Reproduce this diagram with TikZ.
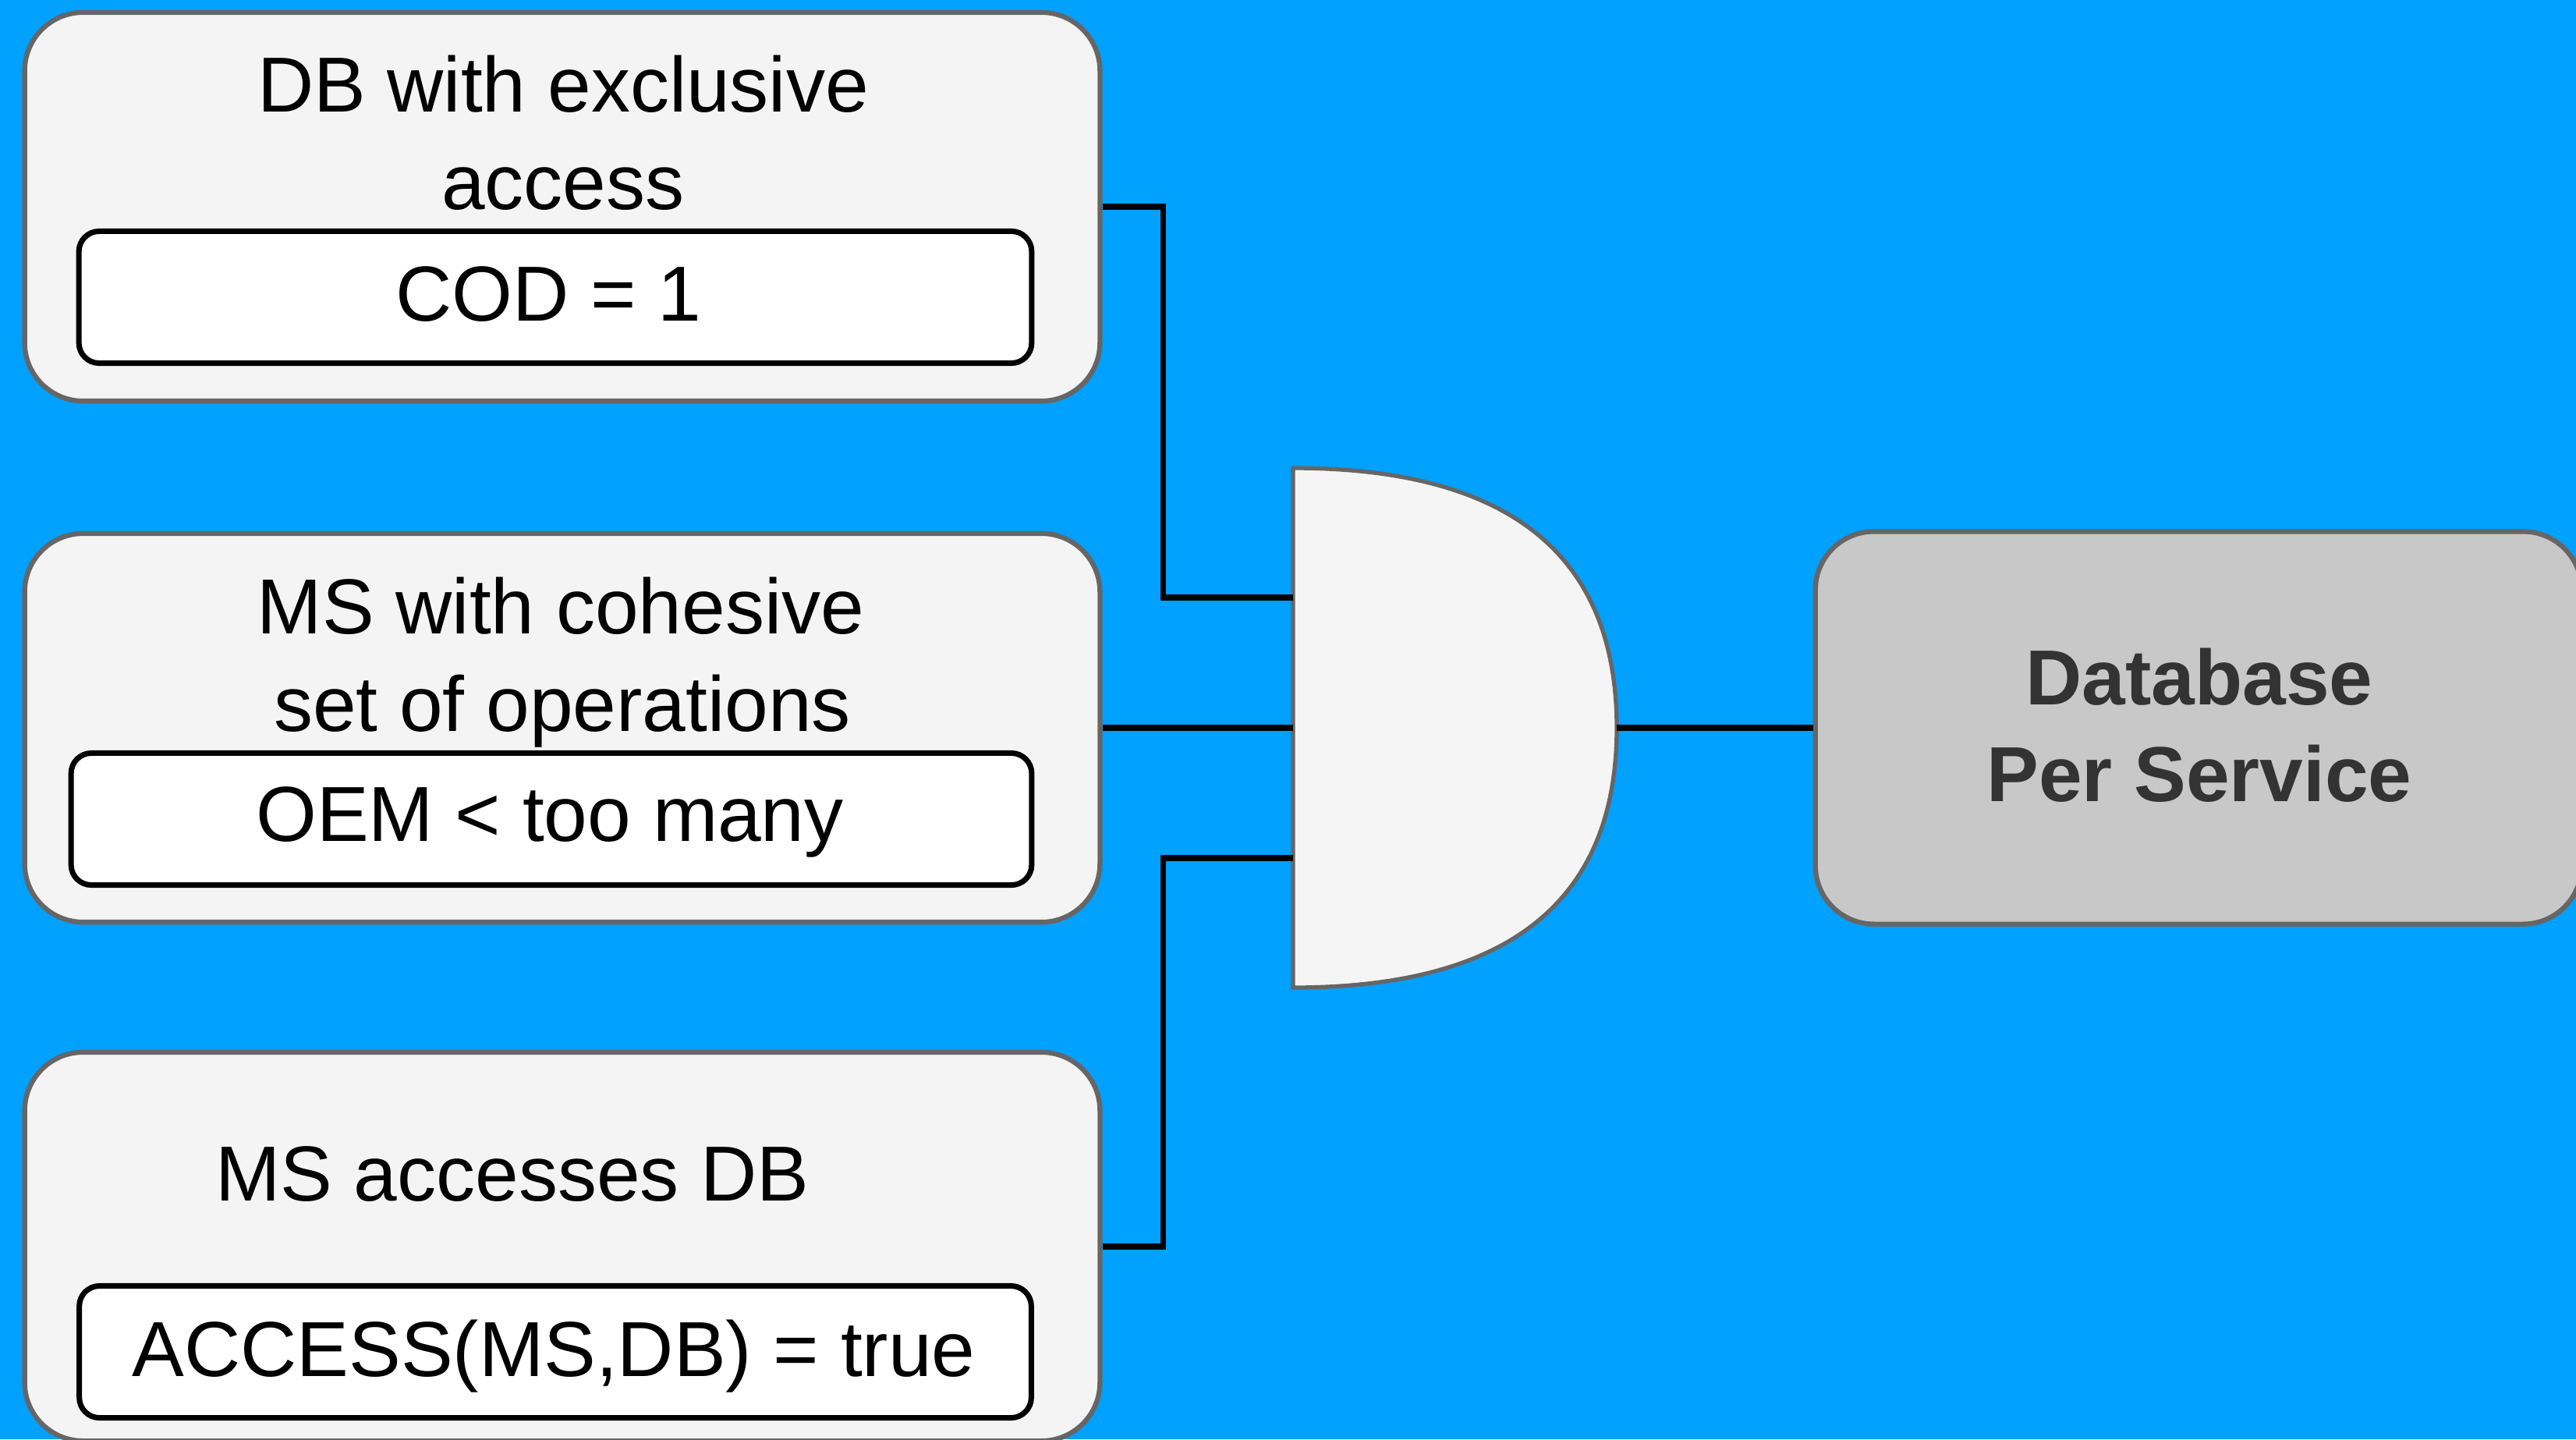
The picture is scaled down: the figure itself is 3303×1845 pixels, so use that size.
\documentclass[tikz,border=0pt]{standalone}
\usepackage{fontspec}
\setmainfont{Liberation Sans}
\definecolor{bg}{RGB}{0,161,255}
\definecolor{panelfill}{HTML}{F4F4F4}
\definecolor{panelline}{HTML}{666666}
\definecolor{gatefill}{HTML}{F5F5F5}
\definecolor{dbfill}{HTML}{C8C8C8}
\definecolor{dbtext}{HTML}{333333}
\begin{document}
\begin{tikzpicture}[x=0.01cm, y=-0.01cm,
  panel/.style={draw=panelline, fill=panelfill, line width=1.8pt,
    rounded corners=0.75cm, minimum width=13.78cm, minimum height=4.98cm, inner sep=0pt},
  cond/.style={draw=black, fill=white, line width=2pt,
    rounded corners=0.26cm, minimum height=1.69cm, inner sep=0pt},
  result/.style={draw=panelline, fill=dbfill, line width=1.8pt,
    rounded corners=0.75cm, minimum width=9.82cm, minimum height=5.03cm, inner sep=0pt},
  gateshape/.style={draw=panelline, fill=gatefill, line width=1.5pt},
  lbl/.style={anchor=base, inner sep=0pt, font=\fontsize{28.45}{34}\selectfont},
  dblbl/.style={lbl, font=\fontsize{28.45}{34}\selectfont\bfseries, text=dbtext},
  wire/.style={line width=2.1pt, black}]

% canvas
\clip (0,0) rectangle (3303,1845);
\fill[bg] (0,0) rectangle (3303,1845);

% condition panels
\node[panel] (b1) at (721,265) {};
\node[panel] (b2) at (721,933) {};
\node[panel] (b3) at (721,1598) {};

% metric boxes inside the panels
\node[cond, minimum width=12.21cm] (m1) at (712,381) {};
\node[cond, minimum width=12.31cm] (m2) at (707,1050) {};
\node[cond, minimum width=12.20cm] (m3) at (712,1733) {};

% panel captions
\node[lbl] (t1a) at (722,143) {DB with exclusive};
\node[lbl] (t1b) at (722,268) {access};
\node[lbl] (c1)  at (703,411) {COD = 1};
\node[lbl] (t2a) at (719,812) {MS with cohesive};
\node[lbl] (t2b) at (721,937) {set of operations};
\node[lbl] (c2)  at (705,1078) {OEM < too many};
\node[lbl] (t3a) at (657,1539) {MS accesses DB};
\node[lbl] (c3)  at (710,1764) {ACCESS(MS,DB) = true};

% AND gate
\draw[gateshape] (1658,600) .. controls (1934.7,600) and (2073,711) .. (2073,933)
  .. controls (2073,1155) and (1934.7,1266) .. (1658,1266) -- cycle;
\coordinate (gin1) at (1658,766);
\coordinate (gin2) at (1658,933);
\coordinate (gin3) at (1658,1100);
\coordinate (gout) at (2073,933);

% outcome
\node[result] (db) at (2819,933) {};
\node[dblbl] (d1) at (2820,903) {Database};
\node[dblbl] (d2) at (2820,1027) {Per Service};

% wiring
\draw[wire] (b1.east) -- ++(78,0) |- (gin1);
\draw[wire] (b2.east) -- (gin2);
\draw[wire] (b3.east) -- ++(78,0) |- (gin3);
\draw[wire] (gout) -- (db.west);
\end{tikzpicture}
\end{document}
